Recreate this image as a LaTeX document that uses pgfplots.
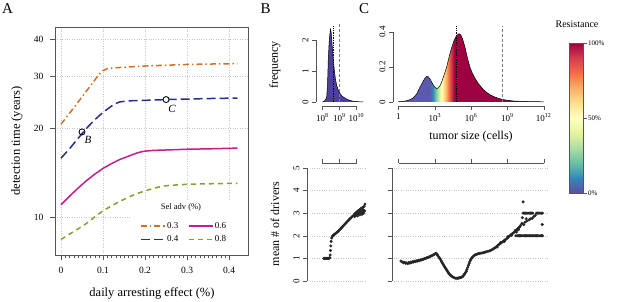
\documentclass[border=0pt]{standalone}
\usepackage{fontspec}
\setmainfont{Liberation Serif}
\usepackage{pgfplots}
\usepackage{pgfplotstable}
\pgfplotsset{compat=1.18}

\definecolor{c03}{RGB}{212,112,35}
\definecolor{c04}{RGB}{38,48,140}
\definecolor{c06}{RGB}{198,28,138}
\definecolor{c08}{RGB}{125,165,45}
\definecolor{axgray}{RGB}{85,85,85}
\definecolor{bfill}{RGB}{76,64,158}
\definecolor{cblue}{RGB}{92,90,172}
\definecolor{s0}{HTML}{5E4FA2}
\definecolor{s1}{HTML}{3288BD}
\definecolor{s2}{HTML}{66C2A5}
\definecolor{s3}{HTML}{ABDDA4}
\definecolor{s4}{HTML}{E6F598}
\definecolor{s5}{HTML}{FFFFBF}
\definecolor{s6}{HTML}{FEE08B}
\definecolor{s7}{HTML}{FDAE61}
\definecolor{s8}{HTML}{F46D43}
\definecolor{s9}{HTML}{D53E4F}
\definecolor{s10}{HTML}{9E0142}

\pgfdeclarehorizontalshading{resistC}{100bp}{color(0bp)=(cblue); color(35.8bp)=(cblue); color(36.9bp)=(s1); color(37.7bp)=(s2); color(38.5bp)=(s3); color(39.2bp)=(s4); color(39.8bp)=(s5); color(40.6bp)=(s6); color(41.5bp)=(s7); color(42.3bp)=(s8); color(43.1bp)=(s9); color(44.2bp)=(s10); color(100bp)=(s10)}
\pgfdeclareverticalshading{resistbar}{100bp}{color(0bp)=(s0); color(25bp)=(s0); color(30bp)=(s1); color(35bp)=(s2); color(40bp)=(s3); color(45bp)=(s4); color(50bp)=(s5); color(55bp)=(s6); color(60bp)=(s7); color(65bp)=(s8); color(70bp)=(s9); color(75bp)=(s10); color(100bp)=(s10)}

\newcommand\fLab{\fontsize{12.5}{14}\selectfont}
\newcommand\fTick{\fontsize{9.5}{11}\selectfont}
\newcommand\fTickS{\fontsize{9}{10}\selectfont}

\pgfplotstableread{
x y
8.00 0.00
8.10 0.02
8.20 0.09
8.25 0.17
8.30 0.60
8.34 1.35
8.40 2.00
8.47 2.35
8.51 2.25
8.55 2.00
8.60 1.60
8.64 1.35
8.70 1.00
8.76 0.75
8.83 0.55
8.90 0.42
9.00 0.30
9.10 0.22
9.22 0.16
9.40 0.10
9.60 0.05
9.80 0.025
10.00 0.012
10.20 0.005
10.40 0.00
}\densB

\pgfplotstableread{
x y
0.00 0.002
0.30 0.003
0.60 0.006
0.90 0.012
1.20 0.022
1.50 0.045
1.78 0.085
2.00 0.112
2.15 0.132
2.33 0.146
2.45 0.145
2.60 0.132
2.75 0.113
2.90 0.095
3.05 0.082
3.16 0.077
3.30 0.081
3.45 0.095
3.60 0.120
3.80 0.160
4.00 0.205
4.20 0.262
4.40 0.312
4.60 0.352
4.80 0.380
5.00 0.390
5.15 0.383
5.30 0.360
5.50 0.312
5.70 0.250
5.90 0.200
6.10 0.165
6.30 0.138
6.60 0.105
7.00 0.072
7.30 0.054
7.60 0.040
8.00 0.027
8.40 0.018
8.80 0.012
9.20 0.008
9.60 0.005
10.00 0.004
10.50 0.003
11.00 0.002
11.50 0.0015
12.00 0.001
}\densC

\begin{document}
\begin{tikzpicture}
\path[use as bounding box] (0pt,0pt) rectangle (617pt,301pt);

% ---------------- Panel A ----------------
\begin{axis}[
  at={(55pt,46pt)}, anchor=south west, scale only axis,
  width=193pt, height=228pt,
  xmin=-0.0143, xmax=0.445, ymode=log, ymin=7.44, ymax=43.9,
  xtick={0,0.1,0.2,0.3,0.4}, xticklabels={0,0.1,0.2,0.3,0.4},
  minor x tick num=9,
  ytick={10,20,30,40}, yticklabels={10,20,30,40},
  yminorticks=false,
  xtick pos=left, ytick pos=left,
  tick align=outside, major tick length=5pt, minor tick length=3pt,
  grid=major, grid style={dotted, gray!45},
  axis line style={axgray}, tick style={axgray},
  tick label style={font=\fTick},
  xticklabel style={yshift=-4pt},
  yticklabel style={xshift=-3pt},
  legend columns=2,
  legend cell align=left,
  legend style={at={(0.44,0.15)}, anchor=north west, draw=none, fill=none,
    font=\fontsize{9}{10}\selectfont, inner sep=0pt, row sep=3pt,
    nodes={inner sep=1.5pt, text height=6.2pt, text depth=1pt},
    /tikz/every even column/.append style={column sep=8pt}},
  legend image code/.code={\draw[#1] (0pt,0pt) -- (24pt,0pt);},
]
\fill[white] (axis cs:0.169,7.44) rectangle (axis cs:0.445,11.45);
\addplot[c03, line width=1.5pt, dash pattern=on 6pt off 3pt on 1.5pt off 3pt] coordinates {
(0,20.6) (0.02,22.4) (0.04,24.4) (0.06,26.6) (0.08,29.0) (0.09,30.3) (0.10,31.3) (0.11,31.7) (0.12,31.9) (0.15,32.1) (0.20,32.4) (0.25,32.6) (0.30,32.8) (0.35,32.9) (0.42,33.0)};
\addlegendentry{0.3}
\addplot[c06, line width=1.5pt] coordinates {
(0,11.0) (0.02,11.75) (0.04,12.5) (0.06,13.25) (0.08,13.95) (0.10,14.6) (0.12,15.15) (0.14,15.65) (0.16,16.05) (0.18,16.45) (0.19,16.6) (0.20,16.7) (0.22,16.8) (0.25,16.85) (0.30,16.95) (0.35,17.0) (0.42,17.1)};
\addlegendentry{0.6}
\addplot[c04, line width=1.5pt, dash pattern=on 9pt off 4pt] coordinates {
(0,15.8) (0.02,17.0) (0.04,18.4) (0.06,19.9) (0.08,21.3) (0.10,22.6) (0.12,23.7) (0.13,24.2) (0.14,24.5) (0.16,24.7) (0.20,24.8) (0.25,24.95) (0.30,25.05) (0.35,25.15) (0.42,25.25)};
\addlegendentry{0.4}
\addplot[c08, line width=1.5pt, dash pattern=on 5pt off 4pt] coordinates {
(0,8.4) (0.02,8.75) (0.04,9.1) (0.06,9.5) (0.08,10.0) (0.10,10.5) (0.12,10.9) (0.14,11.3) (0.16,11.65) (0.18,12.0) (0.20,12.25) (0.22,12.5) (0.24,12.7) (0.26,12.8) (0.30,12.9) (0.35,12.95) (0.42,13.0)};
\addlegendentry{0.8}
\addplot[forget plot, only marks, mark=o, mark size=3pt, mark options={draw=black, line width=0.9pt}] coordinates {(0.05,19.4)};
\addplot[forget plot, only marks, mark=*, mark size=3pt, mark options={draw=black, fill=white, line width=0.9pt}] coordinates {(0.25,24.95)};
\end{axis}

% ---------------- Panel B top ----------------
\begin{axis}[
  at={(316pt,195pt)}, anchor=south west, scale only axis,
  width=50.7pt, height=83pt,
  xmin=7.62, xmax=10.6, ymin=-0.13, ymax=2.55,
  axis x line*=bottom, axis y line*=left, axis line style={draw=none},
  xtick={8,9,10}, xticklabels={10\textsuperscript{8},10\textsuperscript{9},10\textsuperscript{10}},
  ytick={0,1,2}, yticklabels={0,1,2},
  yticklabel style={rotate=90, anchor=south},
  tick align=outside, major tick length=4pt, tick style={axgray},
  tick label style={font=\fTickS},
  clip=false,
]
\addplot[draw=none, fill=bfill] table {\densB} \closedcycle;
\addplot[black, line width=0.5pt] table {\densB};
\draw[black, densely dotted, line width=0.7pt] (axis cs:8.64,0) -- (axis cs:8.64,2.45);
\draw[gray, dash pattern=on 3pt off 2pt, line width=0.7pt] (axis cs:8.97,0) -- (axis cs:8.97,2.55);
\draw[axgray] (axis cs:8,-0.13) -- (axis cs:10,-0.13);
\draw[axgray] (axis cs:7.62,0) -- (axis cs:7.62,2);
\end{axis}

% ---------------- Panel C top ----------------
\begin{axis}[
  at={(393pt,195pt)}, anchor=south west, scale only axis,
  width=156.75pt, height=86.25pt,
  xmin=-0.45, xmax=12.5, ymin=-0.023, ymax=0.47,
  axis x line*=bottom, axis y line*=left, axis line style={draw=none},
  xtick={0,3,6,9,12}, xticklabels={1,10\textsuperscript{3},10\textsuperscript{6},10\textsuperscript{9},10\textsuperscript{12}},
  ytick={0,0.2,0.4}, yticklabels={0,0.2,0.4},
  yticklabel style={rotate=90, anchor=south},
  tick align=outside, major tick length=4pt, tick style={axgray},
  tick label style={font=\fTickS},
  clip=false,
]
\addplot[draw=none, shade, shading=resistC] table {\densC} \closedcycle;
\addplot[black, line width=0.5pt] table {\densC};
\draw[black, densely dotted, line width=0.7pt] (axis cs:4.8,0) -- (axis cs:4.8,0.434);
\draw[gray, dash pattern=on 3pt off 2pt, line width=0.7pt] (axis cs:8.61,0) -- (axis cs:8.61,0.434);
\draw[axgray] (axis cs:0,-0.023) -- (axis cs:12,-0.023);
\draw[axgray] (axis cs:-0.45,0) -- (axis cs:-0.45,0.4);
\end{axis}

% ---------------- Panel B bottom ----------------
\begin{axis}[
  at={(307pt,16pt)}, anchor=south west, scale only axis,
  width=59.7pt, height=122pt,
  xmin=7.09, xmax=10.6, ymin=-0.18, ymax=5.22,
  axis x line*=top, axis y line*=left, axis line style={draw=none},
  xtick={8,9,10}, xticklabels={},
  ytick={0,1,2,3,4,5}, yticklabels={0,1,2,3,4,5},
  yticklabel style={rotate=90, anchor=south},
  tick align=outside, major tick length=4pt, tick style={axgray},
  tick label style={font=\fTickS},
  clip=false,
]
\pgfplotsinvokeforeach{0,1,2,3,4,5}{\draw[gray!45, dotted] (axis cs:7.38,#1) -- (axis cs:10.56,#1);}
\draw[axgray] (axis cs:8,5.22) -- (axis cs:10,5.22);
\draw[axgray] (axis cs:7.09,0) -- (axis cs:7.09,5);
\addplot[only marks, mark=*, mark size=1.3pt, black!85] coordinates {
(8.08,1.0) (8.12,1.0) (8.16,1.0) (8.20,1.0) (8.24,1.0) (8.28,1.0) (8.32,1.0) (8.36,1.0) (8.40,1.01) (8.43,1.03)
(8.45,1.15) (8.47,1.35) (8.49,1.55) (8.51,1.75) (8.54,1.9) (8.58,1.97) (8.62,2.0) (8.66,2.03) (8.70,2.06)
(8.75,2.09) (8.80,2.12) (8.85,2.15) (8.90,2.18) (8.95,2.22) (9.00,2.26) (9.05,2.3) (9.10,2.34) (9.15,2.38)
(9.20,2.42) (9.25,2.46) (9.30,2.5) (9.35,2.54) (9.40,2.58) (9.45,2.62) (9.50,2.66) (9.55,2.7) (9.60,2.74)
(9.65,2.78) (9.70,2.81) (9.75,2.85) (9.80,2.88) (9.85,2.91) (9.88,2.95) (9.90,2.85) (9.92,2.98) (9.95,2.9)
(9.97,3.02) (10.00,2.95) (10.02,3.05) (10.05,2.88) (10.07,3.08) (10.10,2.98) (10.12,3.12) (10.15,3.0)
(10.18,3.15) (10.20,2.92) (10.22,3.05) (10.25,3.2) (10.28,3.0) (10.30,3.1) (10.33,2.95) (10.35,3.25)
(10.38,3.05) (10.40,3.15) (10.42,3.0) (10.45,3.3) (10.48,3.1) (10.50,3.4)};
\end{axis}

% ---------------- Panel C bottom ----------------
\begin{axis}[
  at={(392pt,16pt)}, anchor=south west, scale only axis,
  width=157.75pt, height=122pt,
  xmin=-0.537, xmax=12.5, ymin=-0.18, ymax=5.22,
  axis x line*=top, axis y line*=left, axis line style={draw=none},
  xtick={0,3,6,9,12}, xticklabels={},
  ytick={0,1,2,3,4,5}, yticklabels={},
  tick align=outside, major tick length=4pt, tick style={axgray},
  clip=false,
]
\pgfplotsinvokeforeach{0,1,2,3,4,5}{\draw[gray!45, dotted] (axis cs:-0.4,#1) -- (axis cs:12.4,#1);}
\draw[axgray] (axis cs:0,5.22) -- (axis cs:12,5.22);
\draw[axgray] (axis cs:-0.537,0) -- (axis cs:-0.537,5);
\addplot[only marks, mark=*, mark size=1.3pt, black!85] coordinates {
(0.20,0.88) (0.28,0.85) (0.36,0.83) (0.44,0.80) (0.52,0.82) (0.60,0.78) (0.68,0.80) (0.76,0.77) (0.84,0.81)
(0.92,0.79) (1.00,0.83) (1.08,0.82) (1.16,0.85) (1.24,0.84) (1.32,0.87) (1.40,0.86) (1.48,0.89) (1.56,0.88)
(1.64,0.91) (1.72,0.90) (1.80,0.93) (1.88,0.93) (1.96,0.95) (2.04,0.96) (2.12,0.98) (2.20,1.00) (2.28,1.01)
(2.36,1.03) (2.44,1.04) (2.52,1.06) (2.60,1.08) (2.68,1.10) (2.76,1.12) (2.84,1.14) (2.92,1.16) (3.00,1.19)
(3.06,1.21) (3.12,1.22) (3.18,1.18) (3.24,1.13) (3.30,1.08) (3.36,1.04) (3.42,0.99) (3.48,0.94) (3.54,0.88)
(3.60,0.82) (3.66,0.76) (3.72,0.71) (3.78,0.65) (3.84,0.60) (3.90,0.55) (3.96,0.50) (4.02,0.45) (4.08,0.40)
(4.14,0.35) (4.20,0.31) (4.26,0.27) (4.34,0.23) (4.42,0.20) (4.50,0.17) (4.58,0.15) (4.66,0.13) (4.74,0.12)
(4.82,0.12) (4.90,0.12) (4.98,0.13) (5.06,0.14) (5.14,0.15) (5.22,0.17) (5.30,0.19) (5.36,0.23) (5.42,0.28)
(5.48,0.32) (5.54,0.37) (5.60,0.43) (5.66,0.51) (5.72,0.60) (5.78,0.69) (5.84,0.78) (5.90,0.86) (5.96,0.93)
(6.02,0.99) (6.08,1.03) (6.16,1.08) (6.24,1.12) (6.32,1.15) (6.40,1.17) (6.50,1.19) (6.60,1.21) (6.70,1.22)
(6.80,1.23) (6.90,1.24) (7.00,1.25) (7.10,1.26) (7.20,1.28) (7.30,1.30) (7.40,1.31) (7.50,1.33) (7.60,1.35)
(7.70,1.37) (7.80,1.41) (7.90,1.44) (8.00,1.48) (8.10,1.52) (8.20,1.57) (8.30,1.61) (8.40,1.65) (8.50,1.69)
(8.60,1.73) (8.70,1.77) (8.80,1.81) (8.90,1.86) (9.00,1.90) (9.10,1.95) (9.20,2.00) (9.30,2.05) (9.40,2.09)
(9.50,2.13) (9.60,2.17) (9.70,2.22) (9.80,2.27) (9.88,2.32) (9.95,2.36) (10.02,2.40) (10.10,2.46)
(8.15,1.50) (8.45,1.70) (8.75,1.75) (9.05,1.97) (9.35,2.02) (9.65,2.24) (9.75,2.16) (9.85,2.25) (9.92,2.28)
(9.70,2.0) (9.80,2.0) (9.90,2.0) (10.0,2.0) (10.1,2.0) (10.2,2.0) (10.3,2.0) (10.4,2.0) (10.5,2.0) (10.6,2.0)
(10.7,2.0) (10.8,2.0) (10.9,2.0) (11.0,2.0) (11.1,2.0) (11.2,2.0) (11.3,2.0) (11.4,2.0) (11.5,2.0) (11.6,2.0)
(11.7,2.0) (11.8,2.0) (11.9,2.0)
(10.3,3.0) (10.4,3.0) (10.5,3.0) (10.6,3.0) (10.7,3.0) (10.8,3.0) (10.9,3.0) (11.0,3.0) (11.1,3.0)
(11.4,3.0) (11.5,3.0) (11.6,3.0) (11.7,3.0) (11.8,3.0) (11.9,3.0)
(10.20,2.55) (10.23,2.80) (10.30,3.50) (10.35,2.50) (10.45,2.60) (10.55,2.75) (10.60,2.65) (10.78,2.70)
(10.90,2.75) (11.05,2.77) (11.18,2.85) (11.30,2.90) (11.88,2.50)};
\end{axis}

% ---------------- colour bar ----------------
\shade[shading=resistbar] (569pt,108pt) rectangle (583pt,258pt);
\draw[axgray, line width=0.5pt] (569pt,108pt) rectangle (583pt,258pt);
\draw[axgray] (583pt,258pt) -- (587pt,258pt) (583pt,183pt) -- (587pt,183pt) (583pt,108pt) -- (587pt,108pt);
\node[anchor=west, inner sep=1pt, font=\fontsize{7}{8}\selectfont] at (587pt,258pt) {100\%};
\node[anchor=west, inner sep=1pt, font=\fontsize{7}{8}\selectfont] at (587pt,183pt) {50\%};
\node[anchor=west, inner sep=1pt, font=\fontsize{7}{8}\selectfont] at (587pt,108pt) {0\%};
\node[font=\fontsize{10}{11}\selectfont] at (577pt,277pt) {Resistance};

% ---------------- texts ----------------
\node[font=\fontsize{15}{16}\selectfont] at (7.5pt,292pt) {A};
\node[font=\fontsize{15}{16}\selectfont] at (265.5pt,292pt) {B};
\node[font=\fontsize{15}{16}\selectfont] at (364pt,292pt) {C};
\node[rotate=90, font=\fLab] at (17pt,160pt) {detection time (years)};
\node[font=\fLab] at (152pt,8pt) {daily arresting effect (\%)};
\node[rotate=90, font=\fontsize{12}{13}\selectfont] at (275pt,236pt) {frequency};
\node[rotate=90, font=\fontsize{12}{13}\selectfont] at (275pt,77pt) {mean \# of drivers};
\node[font=\fontsize{12}{13}\selectfont] at (471pt,164pt) {tumor size (cells)};
\node[font=\fontsize{8.5}{9}\selectfont] at (181pt,94pt) {Sel adv (\%)};
\node[font=\fontsize{11}{12}\selectfont\itshape] at (88pt,161pt) {B};
\node[font=\fontsize{11}{12}\selectfont\itshape] at (172pt,192pt) {C};
\end{tikzpicture}
\end{document}
